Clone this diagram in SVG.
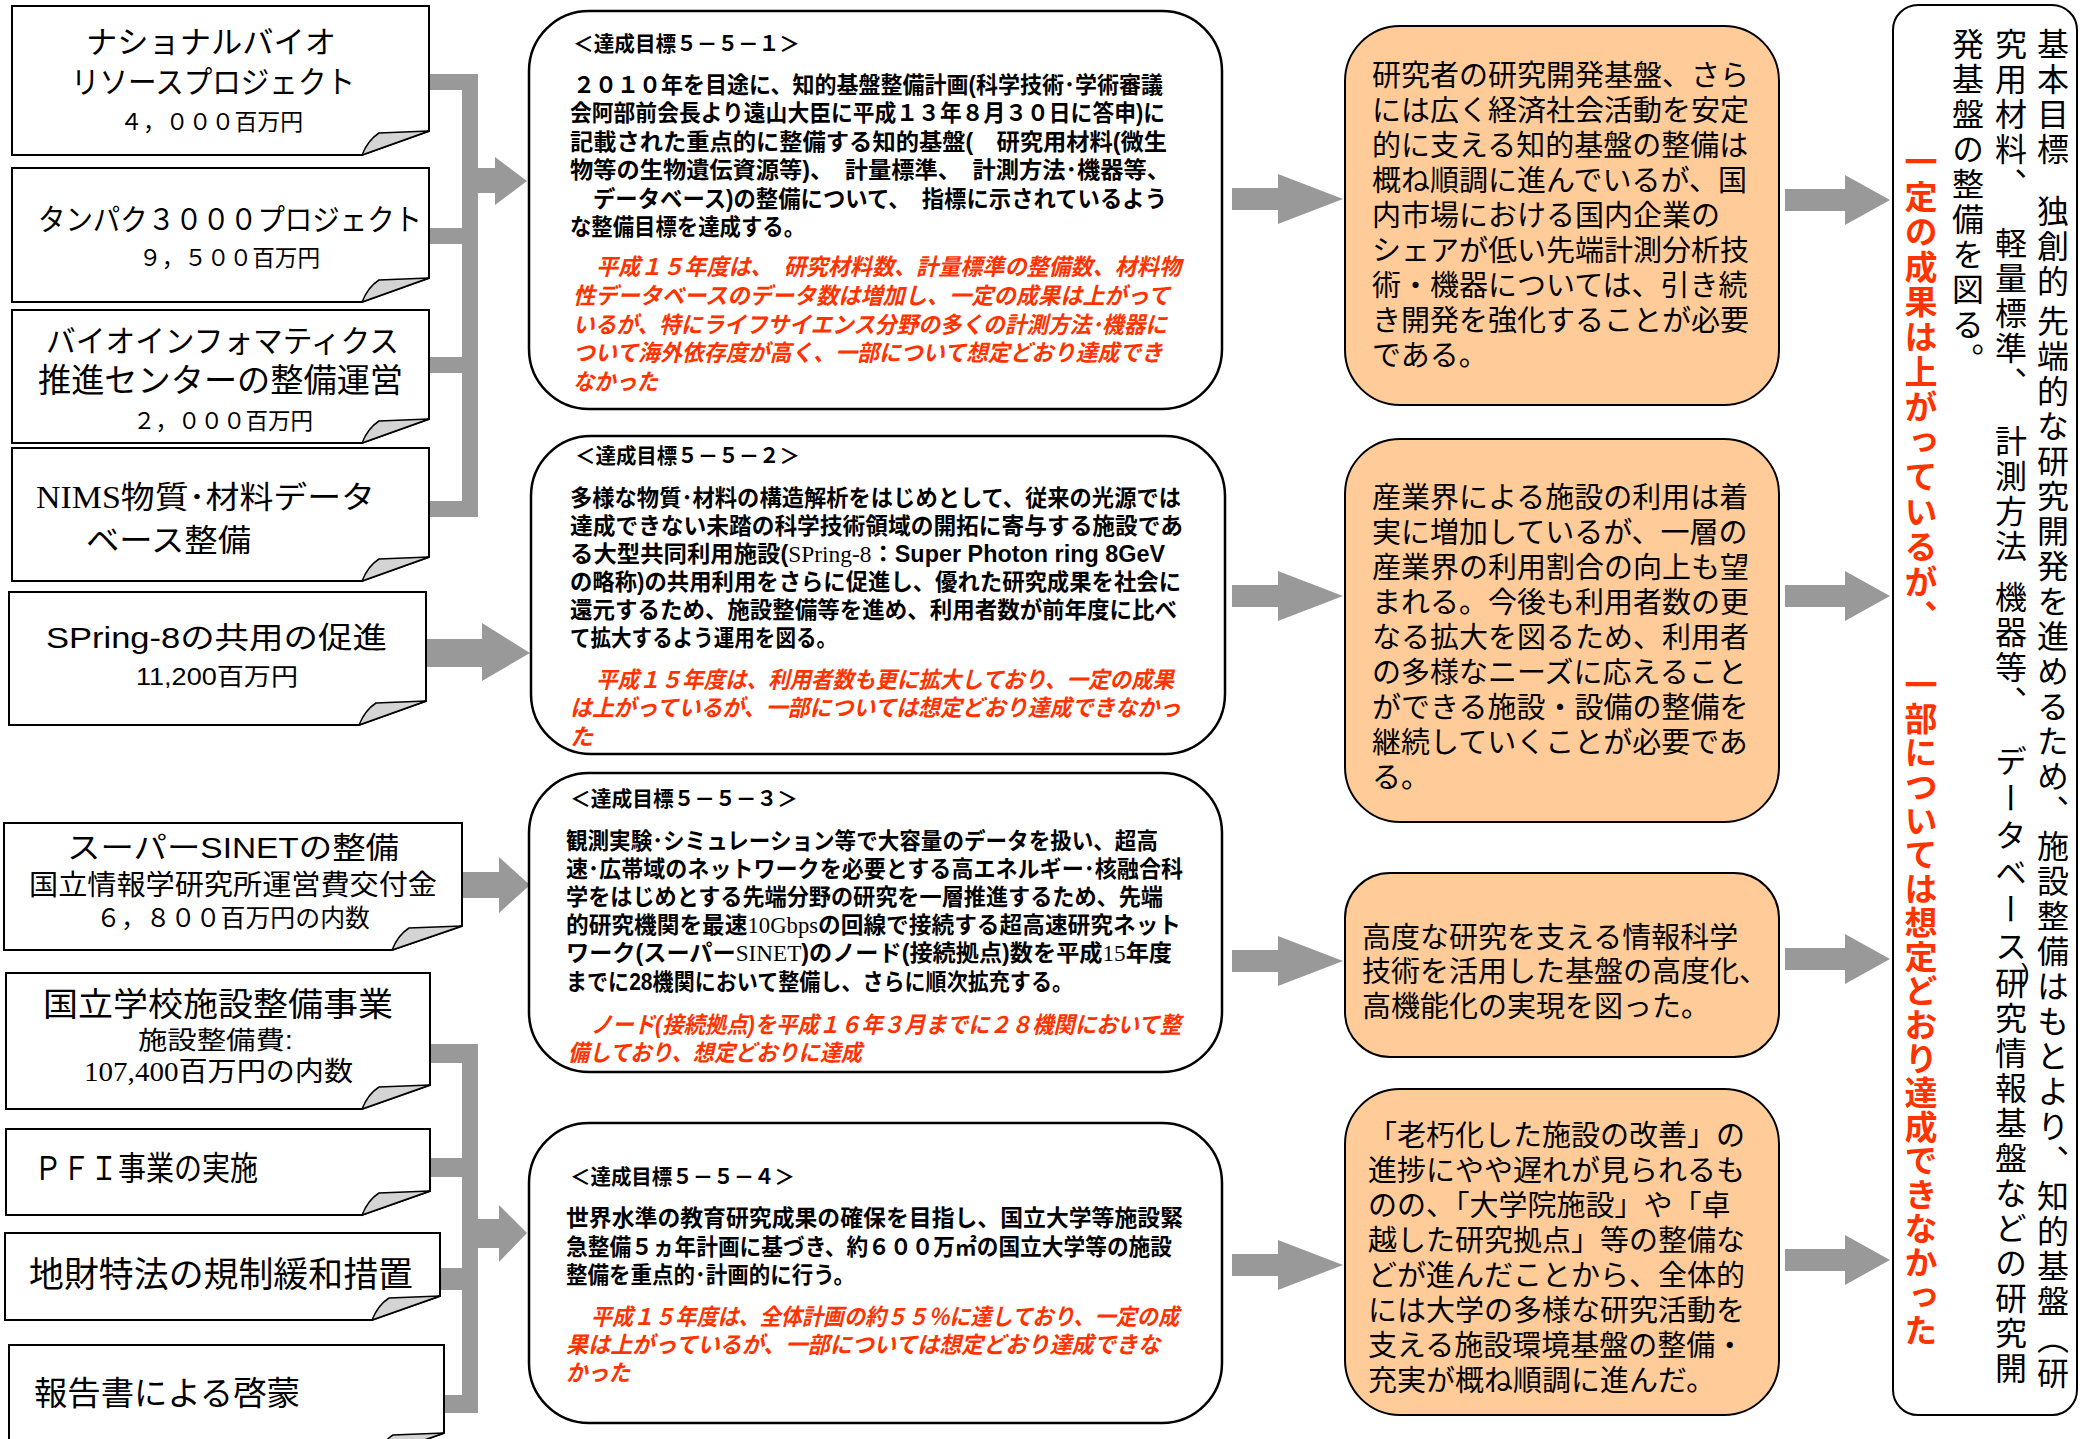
<svg xmlns="http://www.w3.org/2000/svg" width="2089" height="1439" viewBox="0 0 2089 1439">
<style>
.bg{fill:#fff}
.lbox{fill:#fff;stroke:#000;stroke-width:2}
.fold{fill:#d4d4d4;stroke:#000;stroke-width:1.5}
.mbox{fill:#fff;stroke:#000;stroke-width:2.5}
.obox{fill:#FFCC99;stroke:#000;stroke-width:2}
.rbox{fill:#fff;stroke:#000;stroke-width:2}
.conn{fill:#999}
.lt{font-family:"Liberation Sans","Noto Sans CJK JP",sans-serif;fill:#000}
.mt{font-family:"Liberation Sans","Noto Sans CJK JP",sans-serif;font-weight:bold;font-size:23px;fill:#000}
.ti{font-family:"Liberation Sans","Noto Sans CJK JP",sans-serif;font-weight:bold;font-size:21px;fill:#000}
.rt{font-family:"Liberation Sans","Noto Sans CJK JP",sans-serif;font-weight:bold;font-style:italic;font-size:23px;fill:#FF3300}
.ot{font-family:"Liberation Sans","Noto Sans CJK JP",sans-serif;font-size:29px;fill:#000}
.vt{font-family:"Noto Sans CJK JP",sans-serif;font-size:32px;fill:#000;writing-mode:tb;letter-spacing:3px}
.vr{font-family:"Noto Sans CJK JP",sans-serif;font-size:33px;font-weight:bold;fill:#FF3300;writing-mode:tb;letter-spacing:2px}
.serif{font-family:"Liberation Serif",serif;font-weight:normal}
</style>
<rect class="bg" x="0" y="0" width="2089" height="1439"/>

<g id="connectors">
  <rect class="conn" x="429" y="74" width="33" height="16"/>
  <rect class="conn" x="429" y="228" width="33" height="16"/>
  <rect class="conn" x="429" y="357" width="33" height="16"/>
  <rect class="conn" x="429" y="501" width="33" height="16"/>
  <rect class="conn" x="462" y="74" width="16" height="443"/>
  <polygon class="conn" points="478,168 495,168 495,157 527,181 495,205 495,193 478,193"/>
  <polygon class="conn" points="426,639 482,639 482,623 530,653 482,681 482,667 426,667"/>
  <polygon class="conn" points="462,872 499,872 499,857 530,885 499,913 499,898 462,898"/>
  <rect class="conn" x="429" y="1044" width="33" height="19"/>
  <rect class="conn" x="429" y="1158" width="33" height="19"/>
  <rect class="conn" x="440" y="1268" width="22" height="22"/>
  <rect class="conn" x="444" y="1395" width="18" height="18"/>
  <rect class="conn" x="462" y="1044" width="16" height="369"/>
  <polygon class="conn" points="478,1219 499,1219 499,1205 527,1233 499,1262 499,1248 478,1248"/>
  <polygon class="conn" points="1232,188 1278,188 1278,174 1343,199 1278,224 1278,210 1232,210"/>
  <polygon class="conn" points="1232,585 1278,585 1278,571 1343,596 1278,621 1278,607 1232,607"/>
  <polygon class="conn" points="1232,950 1278,950 1278,936 1343,961 1278,986 1278,972 1232,972"/>
  <polygon class="conn" points="1232,1254 1278,1254 1278,1240 1343,1265 1278,1290 1278,1276 1232,1276"/>
  <polygon class="conn" points="1785,189 1845,189 1845,175 1890,200 1845,225 1845,211 1785,211"/>
  <polygon class="conn" points="1785,585 1845,585 1845,571 1890,596 1845,621 1845,607 1785,607"/>
  <polygon class="conn" points="1785,948 1845,948 1845,934 1890,959 1845,984 1845,970 1785,970"/>
  <polygon class="conn" points="1785,1249 1845,1249 1845,1235 1890,1260 1845,1285 1845,1271 1785,1271"/>
</g>

<g id="n-bio">
  <path class="lbox" d="M12,6 H429 V131 L362,155 H12 Z"/>
  <path class="fold" d="M362,155 Q368,140 379,133 L429,131 Z"/>
  <text class="lt" x="86" y="53" font-size="31" textLength="250" lengthAdjust="spacingAndGlyphs">ナショナルバイオ</text>
  <text class="lt" x="71" y="93" font-size="31" textLength="284" lengthAdjust="spacingAndGlyphs">リソースプロジェクト</text>
  <text class="lt" x="120" y="130" font-size="23" textLength="183" lengthAdjust="spacingAndGlyphs">４，０００百万円</text>
</g>
<g id="n-protein">
  <path class="lbox" d="M12,168 H429 V278 L362,302 H12 Z"/>
  <path class="fold" d="M362,302 Q368,287 379,280 L429,278 Z"/>
  <text class="lt" x="38" y="230" font-size="30" textLength="384" lengthAdjust="spacingAndGlyphs">タンパク３０００プロジェクト</text>
  <text class="lt" x="139" y="266" font-size="23" textLength="181" lengthAdjust="spacingAndGlyphs">９，５００百万円</text>
</g>
<g id="n-bioinfo">
  <path class="lbox" d="M12,310 H429 V419 L362,443 H12 Z"/>
  <path class="fold" d="M362,443 Q368,428 379,421 L429,419 Z"/>
  <text class="lt" x="46" y="352" font-size="31" textLength="353" lengthAdjust="spacingAndGlyphs">バイオインフォマティクス</text>
  <text class="lt" x="38" y="392" font-size="33" textLength="365" lengthAdjust="spacingAndGlyphs">推進センターの整備運営</text>
  <text class="lt" x="133" y="429" font-size="23" textLength="180" lengthAdjust="spacingAndGlyphs">２，０００百万円</text>
</g>
<g id="n-nims">
  <path class="lbox" d="M12,448 H429 V557 L362,581 H12 Z"/>
  <path class="fold" d="M362,581 Q368,566 379,559 L429,557 Z"/>
  <text class="lt" x="36" y="508" font-size="31" textLength="339" lengthAdjust="spacingAndGlyphs"><tspan class="serif">NIMS</tspan>物質･材料データ</text>
  <text class="lt" x="86" y="551" font-size="31" textLength="165" lengthAdjust="spacingAndGlyphs">ベース整備</text>
</g>
<g id="n-spring8">
  <path class="lbox" d="M9,592 H426 V701 L359,725 H9 Z"/>
  <path class="fold" d="M359,725 Q365,710 376,703 L426,701 Z"/>
  <text class="lt" x="46" y="648" font-size="30" textLength="341" lengthAdjust="spacingAndGlyphs">SPring-8の共用の促進</text>
  <text class="lt" x="136" y="685" font-size="24" textLength="162" lengthAdjust="spacingAndGlyphs">11,200百万円</text>
</g>
<g id="n-sinet">
  <path class="lbox" d="M4,823 H462 V926 L392,950 H4 Z"/>
  <path class="fold" d="M392,950 Q398,935 409,928 L462,926 Z"/>
  <text class="lt" x="67" y="858" font-size="30" textLength="332" lengthAdjust="spacingAndGlyphs">スーパーSINETの整備</text>
  <text class="lt" x="29" y="895" font-size="28" textLength="408" lengthAdjust="spacingAndGlyphs">国立情報学研究所運営費交付金</text>
  <text class="lt" x="96" y="927" font-size="25" textLength="274" lengthAdjust="spacingAndGlyphs">６，８００百万円の内数</text>
</g>
<g id="n-school">
  <path class="lbox" d="M6,973 H430 V1085 L362,1109 H6 Z"/>
  <path class="fold" d="M362,1109 Q368,1094 379,1087 L430,1085 Z"/>
  <text class="lt" x="43" y="1016" font-size="33" textLength="350" lengthAdjust="spacingAndGlyphs">国立学校施設整備事業</text>
  <text class="lt" x="138" y="1049" font-size="25" textLength="155" lengthAdjust="spacingAndGlyphs">施設整備費:</text>
  <text class="lt" x="84" y="1081" font-size="27" textLength="269" lengthAdjust="spacingAndGlyphs"><tspan class="serif">107,400</tspan>百万円の内数</text>
</g>
<g id="n-pfi">
  <path class="lbox" d="M6,1129 H430 V1191 L362,1215 H6 Z"/>
  <path class="fold" d="M362,1215 Q368,1200 379,1193 L430,1191 Z"/>
  <text class="lt" x="34" y="1180" font-size="33" textLength="224" lengthAdjust="spacingAndGlyphs">ＰＦＩ事業の実施</text>
</g>
<g id="n-chizai">
  <path class="lbox" d="M5,1233 H440 V1296 L372,1320 H5 Z"/>
  <path class="fold" d="M372,1320 Q378,1305 389,1298 L440,1296 Z"/>
  <text class="lt" x="29" y="1287" font-size="35" textLength="384" lengthAdjust="spacingAndGlyphs">地財特法の規制緩和措置</text>
</g>
<g id="n-report">
  <path class="lbox" d="M9,1345 H444 V1433 L376,1457 H9 Z"/>
  <path class="fold" d="M376,1457 Q382,1442 393,1435 L444,1433 Z"/>
  <text class="lt" x="34" y="1405" font-size="33" textLength="266" lengthAdjust="spacingAndGlyphs">報告書による啓蒙</text>
</g>

<g id="n-goal1">
  <rect class="mbox" x="529" y="11" width="693" height="398" rx="60"/>
  <text class="ti" x="573" y="51" textLength="227" lengthAdjust="spacingAndGlyphs">＜達成目標５－５－１＞</text>
  <text class="mt" x="573" y="93" textLength="590" lengthAdjust="spacingAndGlyphs">２０１０年を目途に、知的基盤整備計画(科学技術･学術審議</text>
  <text class="mt" x="570" y="121" textLength="595" lengthAdjust="spacingAndGlyphs">会阿部前会長より遠山大臣に平成１３年８月３０日に答申)に</text>
  <text class="mt" x="570" y="150" textLength="597" lengthAdjust="spacingAndGlyphs">記載された重点的に整備する知的基盤(　研究用材料(微生</text>
  <text class="mt" x="570" y="178" textLength="600" lengthAdjust="spacingAndGlyphs">物等の生物遺伝資源等)、　計量標準、　計測方法･機器等、</text>
  <text class="mt" x="593" y="207" textLength="574" lengthAdjust="spacingAndGlyphs">データベース)の整備について、　指標に示されているよう</text>
  <text class="mt" x="570" y="235" textLength="235" lengthAdjust="spacingAndGlyphs">な整備目標を達成する。</text>
  <text class="rt" x="596" y="275" textLength="585" lengthAdjust="spacingAndGlyphs">平成１５年度は、　研究材料数、計量標準の整備数、材料物</text>
  <text class="rt" x="573" y="304" textLength="597" lengthAdjust="spacingAndGlyphs">性データベースのデータ数は増加し、一定の成果は上がって</text>
  <text class="rt" x="573" y="333" textLength="594" lengthAdjust="spacingAndGlyphs">いるが、特にライフサイエンス分野の多くの計測方法･機器に</text>
  <text class="rt" x="573" y="361" textLength="590" lengthAdjust="spacingAndGlyphs">ついて海外依存度が高く、一部について想定どおり達成でき</text>
  <text class="rt" x="573" y="390" textLength="85" lengthAdjust="spacingAndGlyphs">なかった</text>
</g>
<g id="n-goal2">
  <rect class="mbox" x="531" y="436" width="694" height="318" rx="60"/>
  <text class="ti" x="575" y="463" textLength="225" lengthAdjust="spacingAndGlyphs">＜達成目標５－５－２＞</text>
  <text class="mt" x="570" y="506" textLength="611" lengthAdjust="spacingAndGlyphs">多様な物質･材料の構造解析をはじめとして、従来の光源では</text>
  <text class="mt" x="570" y="534" textLength="613" lengthAdjust="spacingAndGlyphs">達成できない未踏の科学技術領域の開拓に寄与する施設であ</text>
  <text class="mt" x="570" y="562" textLength="595" lengthAdjust="spacingAndGlyphs">る大型共同利用施設(<tspan class="serif">SPring-8</tspan>：Super Photon ring 8GeV</text>
  <text class="mt" x="570" y="590" textLength="611" lengthAdjust="spacingAndGlyphs">の略称)の共用利用をさらに促進し、優れた研究成果を社会に</text>
  <text class="mt" x="570" y="618" textLength="607" lengthAdjust="spacingAndGlyphs">還元するため、施設整備等を進め、利用者数が前年度に比べ</text>
  <text class="mt" x="570" y="646" textLength="267" lengthAdjust="spacingAndGlyphs">て拡大するよう運用を図る。</text>
  <text class="rt" x="596" y="688" textLength="578" lengthAdjust="spacingAndGlyphs">平成１５年度は、利用者数も更に拡大しており、一定の成果</text>
  <text class="rt" x="570" y="716" textLength="611" lengthAdjust="spacingAndGlyphs">は上がっているが、一部については想定どおり達成できなかっ</text>
  <text class="rt" x="570" y="745" textLength="23" lengthAdjust="spacingAndGlyphs">た</text>
</g>
<g id="n-goal3">
  <rect class="mbox" x="529" y="773" width="693" height="299" rx="60"/>
  <text class="ti" x="570" y="806" textLength="228" lengthAdjust="spacingAndGlyphs">＜達成目標５－５－３＞</text>
  <text class="mt" x="566" y="849" textLength="592" lengthAdjust="spacingAndGlyphs">観測実験･シミュレーション等で大容量のデータを扱い、超高</text>
  <text class="mt" x="566" y="877" textLength="617" lengthAdjust="spacingAndGlyphs">速･広帯域のネットワークを必要とする高エネルギー･核融合科</text>
  <text class="mt" x="566" y="905" textLength="597" lengthAdjust="spacingAndGlyphs">学をはじめとする先端分野の研究を一層推進するため、先端</text>
  <text class="mt" x="566" y="933" textLength="615" lengthAdjust="spacingAndGlyphs">的研究機関を最速<tspan class="serif">10Gbps</tspan>の回線で接続する超高速研究ネット</text>
  <text class="mt" x="566" y="961" textLength="606" lengthAdjust="spacingAndGlyphs">ワーク(スーパー<tspan class="serif">SINET</tspan>)のノード(接続拠点)数を平成<tspan class="serif">15</tspan>年度</text>
  <text class="mt" x="566" y="990" textLength="507" lengthAdjust="spacingAndGlyphs">までに28機関において整備し、さらに順次拡充する。</text>
  <text class="rt" x="591" y="1033" textLength="590" lengthAdjust="spacingAndGlyphs">ノード(接続拠点)を平成１６年３月までに２８機関において整</text>
  <text class="rt" x="568" y="1061" textLength="294" lengthAdjust="spacingAndGlyphs">備しており、想定どおりに達成</text>
</g>
<g id="n-goal4">
  <rect class="mbox" x="529" y="1123" width="693" height="300" rx="60"/>
  <text class="ti" x="570" y="1184" textLength="225" lengthAdjust="spacingAndGlyphs">＜達成目標５－５－４＞</text>
  <text class="mt" x="566" y="1226" textLength="617" lengthAdjust="spacingAndGlyphs">世界水準の教育研究成果の確保を目指し、国立大学等施設緊</text>
  <text class="mt" x="566" y="1255" textLength="606" lengthAdjust="spacingAndGlyphs">急整備５ヵ年計画に基づき、約６００万㎡の国立大学等の施設</text>
  <text class="mt" x="566" y="1283" textLength="289" lengthAdjust="spacingAndGlyphs">整備を重点的･計画的に行う。</text>
  <text class="rt" x="591" y="1325" textLength="588" lengthAdjust="spacingAndGlyphs">平成１５年度は、全体計画の約５５％に達しており、一定の成</text>
  <text class="rt" x="566" y="1353" textLength="594" lengthAdjust="spacingAndGlyphs">果は上がっているが、一部については想定どおり達成できな</text>
  <text class="rt" x="566" y="1381" textLength="64" lengthAdjust="spacingAndGlyphs">かった</text>
</g>

<g id="n-eval1">
  <rect class="obox" x="1345" y="26" width="434" height="379" rx="55"/>
  <text class="ot" x="1372" y="86">研究者の研究開発基盤、さら</text>
  <text class="ot" x="1372" y="121">には広く経済社会活動を安定</text>
  <text class="ot" x="1372" y="156">的に支える知的基盤の整備は</text>
  <text class="ot" x="1372" y="191">概ね順調に進んでいるが、国</text>
  <text class="ot" x="1372" y="226">内市場における国内企業の</text>
  <text class="ot" x="1372" y="261">シェアが低い先端計測分析技</text>
  <text class="ot" x="1372" y="296">術・機器については、引き続</text>
  <text class="ot" x="1372" y="331">き開発を強化することが必要</text>
  <text class="ot" x="1372" y="366">である。</text>
</g>
<g id="n-eval2">
  <rect class="obox" x="1345" y="439" width="434" height="383" rx="55"/>
  <text class="ot" x="1372" y="508">産業界による施設の利用は着</text>
  <text class="ot" x="1372" y="543">実に増加しているが、一層の</text>
  <text class="ot" x="1372" y="578">産業界の利用割合の向上も望</text>
  <text class="ot" x="1372" y="613">まれる。今後も利用者数の更</text>
  <text class="ot" x="1372" y="648">なる拡大を図るため、利用者</text>
  <text class="ot" x="1372" y="683">の多様なニーズに応えること</text>
  <text class="ot" x="1372" y="718">ができる施設・設備の整備を</text>
  <text class="ot" x="1372" y="753">継続していくことが必要であ</text>
  <text class="ot" x="1372" y="788">る。</text>
</g>
<g id="n-eval3">
  <rect class="obox" x="1345" y="873" width="434" height="184" rx="45"/>
  <text class="ot" x="1362" y="948">高度な研究を支える情報科学</text>
  <text class="ot" x="1362" y="982">技術を活用した基盤の高度化、</text>
  <text class="ot" x="1362" y="1017">高機能化の実現を図った。</text>
</g>
<g id="n-eval4">
  <rect class="obox" x="1345" y="1089" width="434" height="326" rx="55"/>
  <text class="ot" x="1368" y="1146">「老朽化した施設の改善」の</text>
  <text class="ot" x="1368" y="1181">進捗にやや遅れが見られるも</text>
  <text class="ot" x="1368" y="1216">のの、「大学院施設」や「卓</text>
  <text class="ot" x="1368" y="1251">越した研究拠点」等の整備な</text>
  <text class="ot" x="1368" y="1286">どが進んだことから、全体的</text>
  <text class="ot" x="1368" y="1321">には大学の多様な研究活動を</text>
  <text class="ot" x="1368" y="1356">支える施設環境基盤の整備・</text>
  <text class="ot" x="1368" y="1391">充実が概ね順調に進んだ。</text>
</g>

<g id="n-basic-goal">
  <rect class="rbox" x="1893" y="5" width="184" height="1410" rx="25"/>
  <text class="vt" x="2053" y="28">基本目標</text>
  <text class="vt" x="2053" y="195">独創的</text>
  <text class="vt" x="2053" y="305">先端的な研究開発を進めるため、施設整備はもとより、知的基盤</text>
  <text class="vt" x="2053" y="1322">（研</text>
  <text class="vt" x="2011" y="28">究用材料、</text>
  <text class="vt" x="2011" y="227">軽量標準、</text>
  <text class="vt" x="2011" y="425">計測方法</text>
  <text class="vt" x="2011" y="581">機器等、</text>
  <text class="vt" x="2011" y="745" style="letter-spacing:5px">データベース</text>
  <text class="lt" x="2021" y="982" font-size="26">)</text>
  <text class="vt" x="2011" y="967">研究情報基盤などの研究開</text>
  <text class="vt" x="1968" y="28">発基盤の整備を図る。</text>
  <text class="vr" x="1921" y="145">一定の成果は上がっているが、</text>
  <text class="vr" x="1921" y="668" style="letter-spacing:1px">一部については想定どおり達成できなかった</text>
</g>
</svg>
